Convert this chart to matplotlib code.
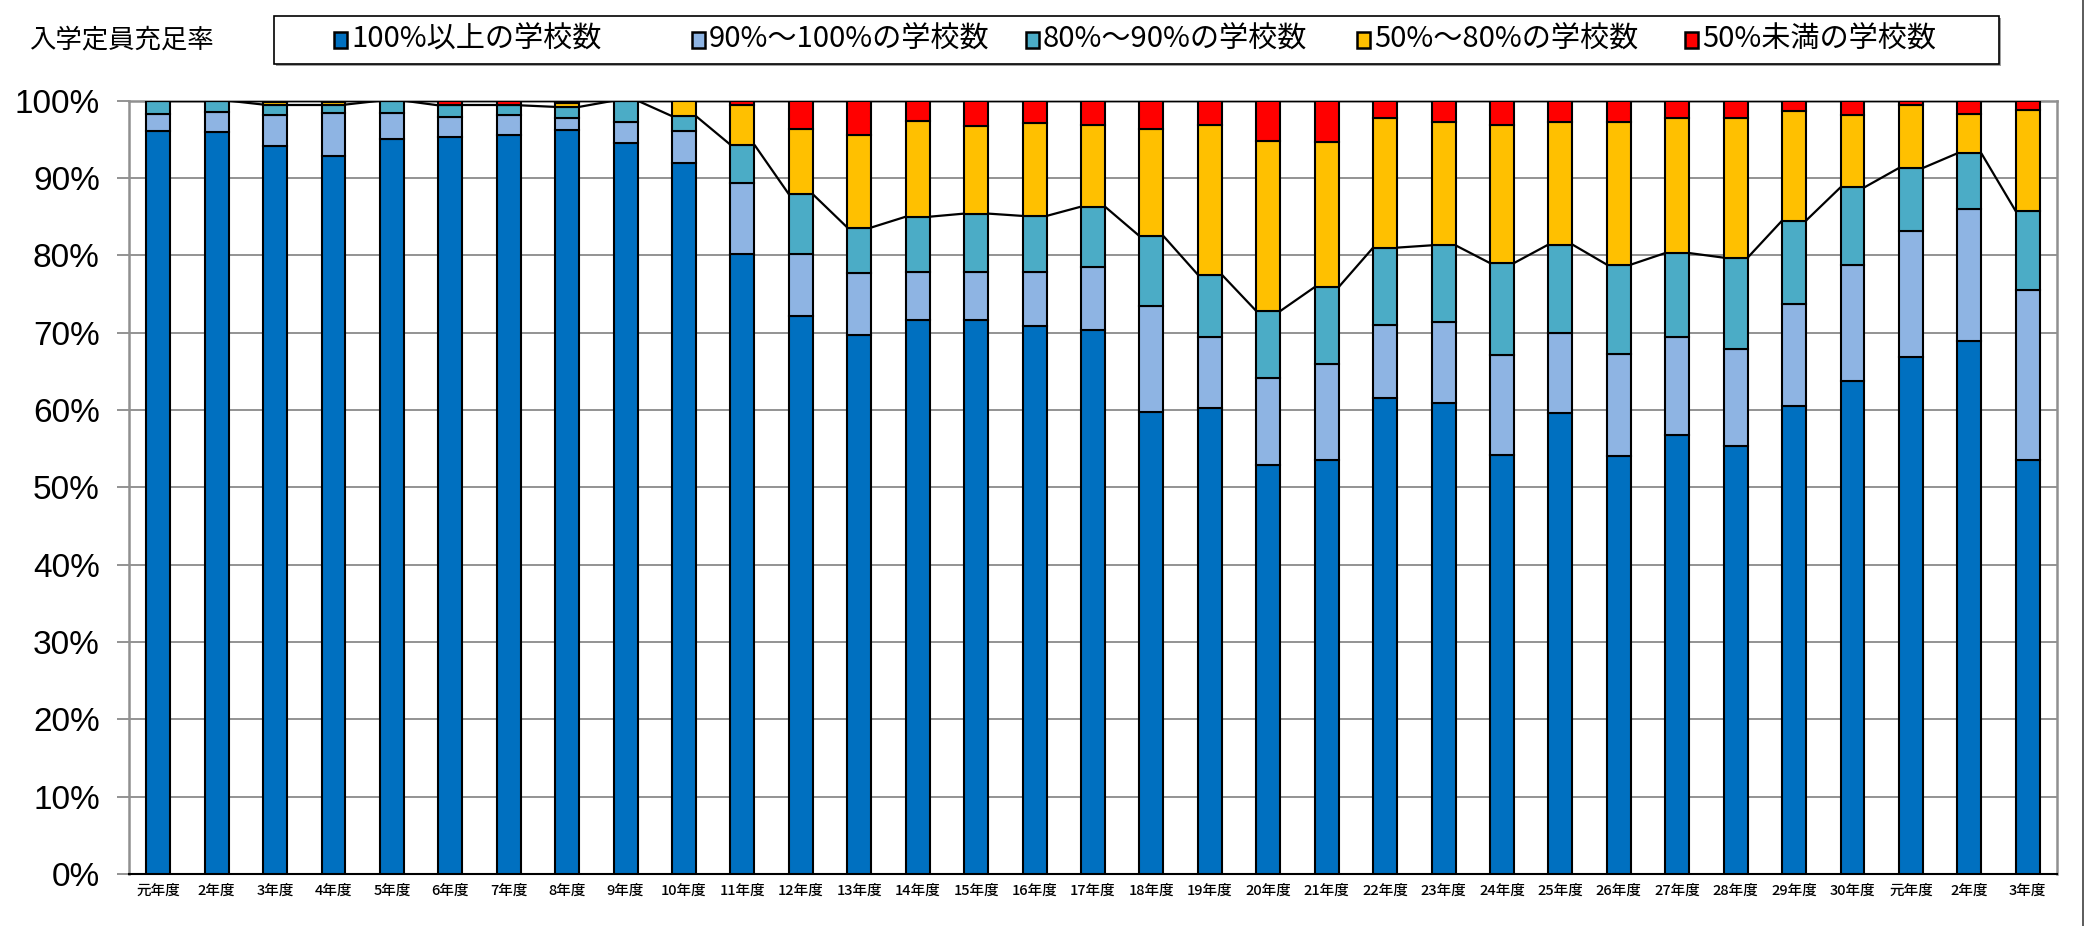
import matplotlib
matplotlib.use('Agg')
import matplotlib.pyplot as plt
from matplotlib.patches import Rectangle
from matplotlib.lines import Line2D
import numpy as np

plt.rcParams['font.family'] = ['Noto Sans CJK JP', 'DejaVu Sans']

# 年度ラベル（平成元年度～30年度、令和元年度～3年度）
years = ['元年度', '2年度', '3年度', '4年度', '5年度', '6年度', '7年度', '8年度',
         '9年度', '10年度', '11年度', '12年度', '13年度', '14年度', '15年度',
         '16年度', '17年度', '18年度', '19年度', '20年度', '21年度', '22年度',
         '23年度', '24年度', '25年度', '26年度', '27年度', '28年度', '29年度',
         '30年度', '元年度', '2年度', '3年度']

# 充足率区分ごとの学校数の割合（%）
over100 = [96.1, 95.9, 94.1, 92.8, 95.0, 95.3, 95.5, 96.2, 94.5, 92.0, 80.2,
           72.2, 69.7, 71.6, 71.7, 70.9, 70.4, 59.7, 60.2, 52.9, 53.5, 61.6,
           60.9, 54.2, 59.6, 54.1, 56.8, 55.4, 60.5, 63.8, 66.9, 68.9, 53.5]
r90_100 = [2.2, 2.7, 4.0, 5.6, 3.4, 2.6, 2.7, 1.5, 2.8, 4.1, 9.1,
           8.0, 8.0, 6.2, 6.2, 6.9, 8.1, 13.7, 9.2, 11.3, 12.4, 9.4,
           10.5, 12.9, 10.3, 13.1, 12.6, 12.5, 13.2, 14.9, 16.2, 17.1, 22.0]
r80_90 = [1.7, 1.4, 1.4, 1.1, 1.6, 1.5, 1.2, 1.5, 2.7, 1.9, 5.0,
          7.7, 5.9, 7.2, 7.5, 7.3, 7.8, 9.1, 8.1, 8.6, 10.0, 10.0,
          9.9, 11.9, 11.5, 11.6, 10.9, 11.8, 10.8, 10.1, 8.2, 7.2, 10.2]
r50_80 = [0.0, 0.0, 0.3, 0.3, 0.0, 0.0, 0.0, 0.5, 0.0, 2.0, 5.1,
          8.4, 12.0, 12.4, 11.3, 12.0, 10.5, 13.8, 19.4, 22.0, 18.7, 16.7,
          15.9, 17.8, 15.8, 18.5, 17.4, 18.0, 14.2, 9.4, 8.1, 5.1, 13.1]
under50 = [0.0, 0.0, 0.2, 0.2, 0.0, 0.6, 0.6, 0.3, 0.0, 0.0, 0.6,
           3.7, 4.4, 2.6, 3.3, 2.9, 3.2, 3.7, 3.1, 5.2, 5.4, 2.3,
           2.8, 3.2, 2.8, 2.7, 2.3, 2.3, 1.3, 1.8, 0.6, 1.7, 1.2]

labels = ['100%以上の学校数', '90%～100%の学校数', '80%～90%の学校数',
          '50%～80%の学校数', '50%未満の学校数']
colors = ['#0070C0', '#8EB4E3', '#4BACC6', '#FFC000', '#FF0000']

W, H = 2094, 926
fig = plt.figure(figsize=(W / 100, H / 100), dpi=100)
ax = fig.add_axes([129 / W, 1 - 874 / H, (2057 - 129) / W, (874 - 100.7) / H])

x = np.arange(len(years))
width = 0.41
series = [over100, r90_100, r80_90, r50_80, under50]
bottom = np.zeros(len(years))
tops = []
for vals, col in zip(series, colors):
    vals = np.array(vals)
    ax.bar(x, vals, width, bottom=bottom, color=col, edgecolor='black',
           linewidth=1.5, zorder=3)
    bottom = bottom + vals
    tops.append(bottom.copy())

# 区分線（80%以上の累計と全体の上端）
for cum in (tops[2], tops[4]):
    for i in range(len(x) - 1):
        ax.plot([x[i] + width / 2, x[i + 1] - width / 2], [cum[i], cum[i + 1]],
                color='black', lw=1.6, zorder=4, solid_capstyle='butt')

ax.set_xlim(-0.5, len(years) - 0.5)
ax.set_ylim(0, 100)
ax.set_yticks(np.arange(0, 101, 10))
ax.set_yticklabels([f'{v}%' for v in range(0, 101, 10)],
                   family=['Liberation Sans Narrow', 'Liberation Sans'], fontsize=24)
ax.set_xticks(x)
ax.set_xticklabels(years, fontsize=10.5, fontweight='medium')
ax.tick_params(axis='x', length=0, pad=7)
ax.tick_params(axis='y', length=9, width=1.2, color='#808080', pad=12)
ax.yaxis.grid(True, color='#808080', lw=1.2, zorder=0)
ax.set_axisbelow(True)
for s in ('left', 'right', 'top'):
    ax.spines[s].set_color('#909090')
    ax.spines[s].set_linewidth(1.8)
ax.spines['bottom'].set_color('black')
ax.spines['bottom'].set_linewidth(1.5)

fig.text(29 / W, 1 - 40 / H, '入学定員充足率', fontsize=19, ha='left', va='center')

# 凡例（枠と影）
bx0, bx1, by0, by1 = 274, 1999, 16, 64
fig.add_artist(Rectangle((bx0 / W + 2 / W, 1 - by1 / H - 2 / H), (bx1 - bx0) / W,
                         (by1 - by0) / H, transform=fig.transFigure,
                         facecolor='#a0a0a0', edgecolor='none'))
fig.add_artist(Rectangle((bx0 / W, 1 - by1 / H), (bx1 - bx0) / W, (by1 - by0) / H,
                         transform=fig.transFigure, facecolor='white',
                         edgecolor='black', lw=1.2))
marker_x = [334, 692, 1026, 1357, 1685]
ly = 40
for mx, lab, col in zip(marker_x, labels, colors):
    fig.add_artist(Rectangle((mx / W, 1 - (ly + 8) / H), 13 / W, 16 / H,
                             transform=fig.transFigure, facecolor=col,
                             edgecolor='black', lw=1.8))
    fig.text((mx + 17) / W, 1 - ly / H, lab, fontsize=21, ha='left', va='center')

fig.add_artist(Line2D([2083 / W, 2083 / W], [0, 1], color='#404040', lw=1.2))

fig.savefig('out.png', dpi=100)
